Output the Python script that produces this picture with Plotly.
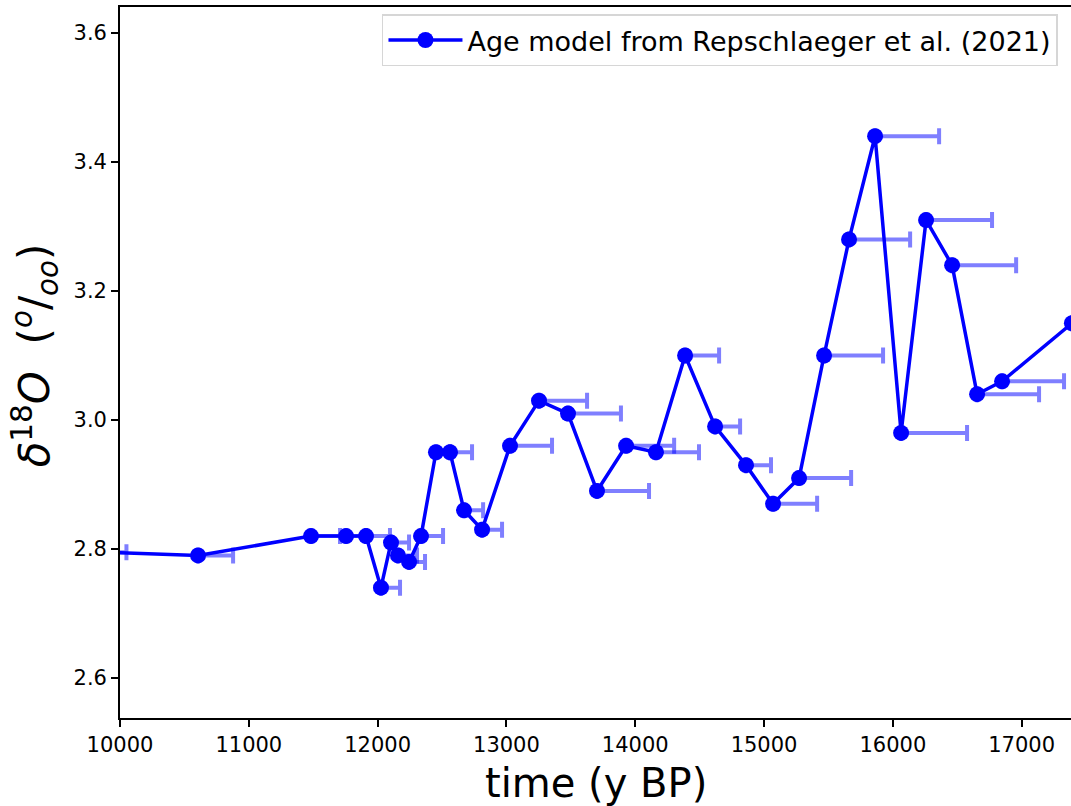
import plotly.graph_objects as go

# Data
time_bp = [9900, 10606, 11483, 11755, 11910, 12026, 12104, 12158, 12244, 12337,
           12453, 12562, 12671, 12811, 13028, 13253, 13478, 13703, 13929, 14161,
           14387, 14620, 14860, 15070, 15272, 15466, 15660, 15862, 16064, 16258,
           16460, 16654, 16848, 17390]
d18o = [2.795, 2.79, 2.82, 2.82, 2.82, 2.74, 2.81, 2.79, 2.78, 2.82,
        2.95, 2.95, 2.86, 2.83, 2.96, 3.03, 3.01, 2.89, 2.96, 2.95,
        3.10, 2.99, 2.93, 2.87, 2.91, 3.10, 3.28, 3.44, 2.98, 3.31,
        3.24, 3.04, 3.06, 3.15]
age_err = [150, 272, 225, 155, 186, 148, 140, 148, 124, 171,
           110, 171, 148, 155, 326, 373, 411, 404, 373, 334,
           264, 194, 194, 342, 404, 458, 474, 497, 512, 512,
           497, 481, 481, 500]
x_ticks = [10000, 11000, 12000, 13000, 14000, 15000, 16000, 17000]
y_ticks = [2.6, 2.8, 3.0, 3.2, 3.4, 3.6]
legend_label = "Age model from Repschlaeger et al. (2021)"

FONT = "DejaVu Sans"
BLUE = "#0000ff"

fig = go.Figure()

# Error bars (one-sided, toward older ages), semi-transparent
fig.add_trace(go.Scatter(
    x=time_bp, y=d18o, mode="markers",
    marker=dict(size=1, color="rgba(0,0,0,0)"),
    error_x=dict(type="data", symmetric=False, array=age_err,
                 arrayminus=[0] * len(age_err),
                 color="rgba(0,0,255,0.5)", thickness=4, width=8),
    showlegend=False, hoverinfo="skip",
))

# Main series
fig.add_trace(go.Scatter(
    x=time_bp, y=d18o, mode="lines+markers", name=legend_label,
    line=dict(color=BLUE, width=3.5),
    marker=dict(color=BLUE, size=16),
))

axis_common = dict(
    showgrid=False, zeroline=False, showline=True, linecolor="black",
    linewidth=1.7, ticks="outside", ticklen=7, tickwidth=1.7,
    tickcolor="black", tickfont=dict(family=FONT, size=21, color="black"),
)

fig.update_layout(
    width=1071, height=806,
    margin=dict(l=120, r=0, t=7, b=88),
    paper_bgcolor="white", plot_bgcolor="white",
    font=dict(family=FONT, color="black"),
    xaxis=dict(range=[10000, 17383], tickvals=x_ticks,
               ticktext=[str(v) for v in x_ticks], mirror=True, **axis_common),
    yaxis=dict(range=[2.538, 3.6403], tickvals=y_ticks,
               ticktext=[f"{v:.1f}" for v in y_ticks], **axis_common),
    legend=dict(x=0.9863, y=0.9895, xanchor="right", yanchor="top",
                bgcolor="white", bordercolor="#d6d6d6", borderwidth=1.5,
                font=dict(family=FONT, size=27, color="black"),
                itemwidth=74),
    annotations=[
        dict(text="time (y BP)", x=0.5, y=-0.092, xref="paper", yref="paper",
             xanchor="center", yanchor="middle", showarrow=False,
             font=dict(family=FONT, size=40, color="black")),
        dict(text="<i>δ</i><sup>18</sup><i>O</i>&nbsp; (<sup><i>o</i></sup>/<sub><i>oo</i></sub>)",
             x=-0.0894, y=0.51, xref="paper", yref="paper", textangle=-90,
             xanchor="center", yanchor="middle", showarrow=False,
             font=dict(family=FONT, size=42, color="black")),
    ],
)

fig.write_html(
    "out.html",
    config={"displayModeBar": False},
    post_script="document.body.style.margin='0px';document.body.style.overflow='hidden';",
)
